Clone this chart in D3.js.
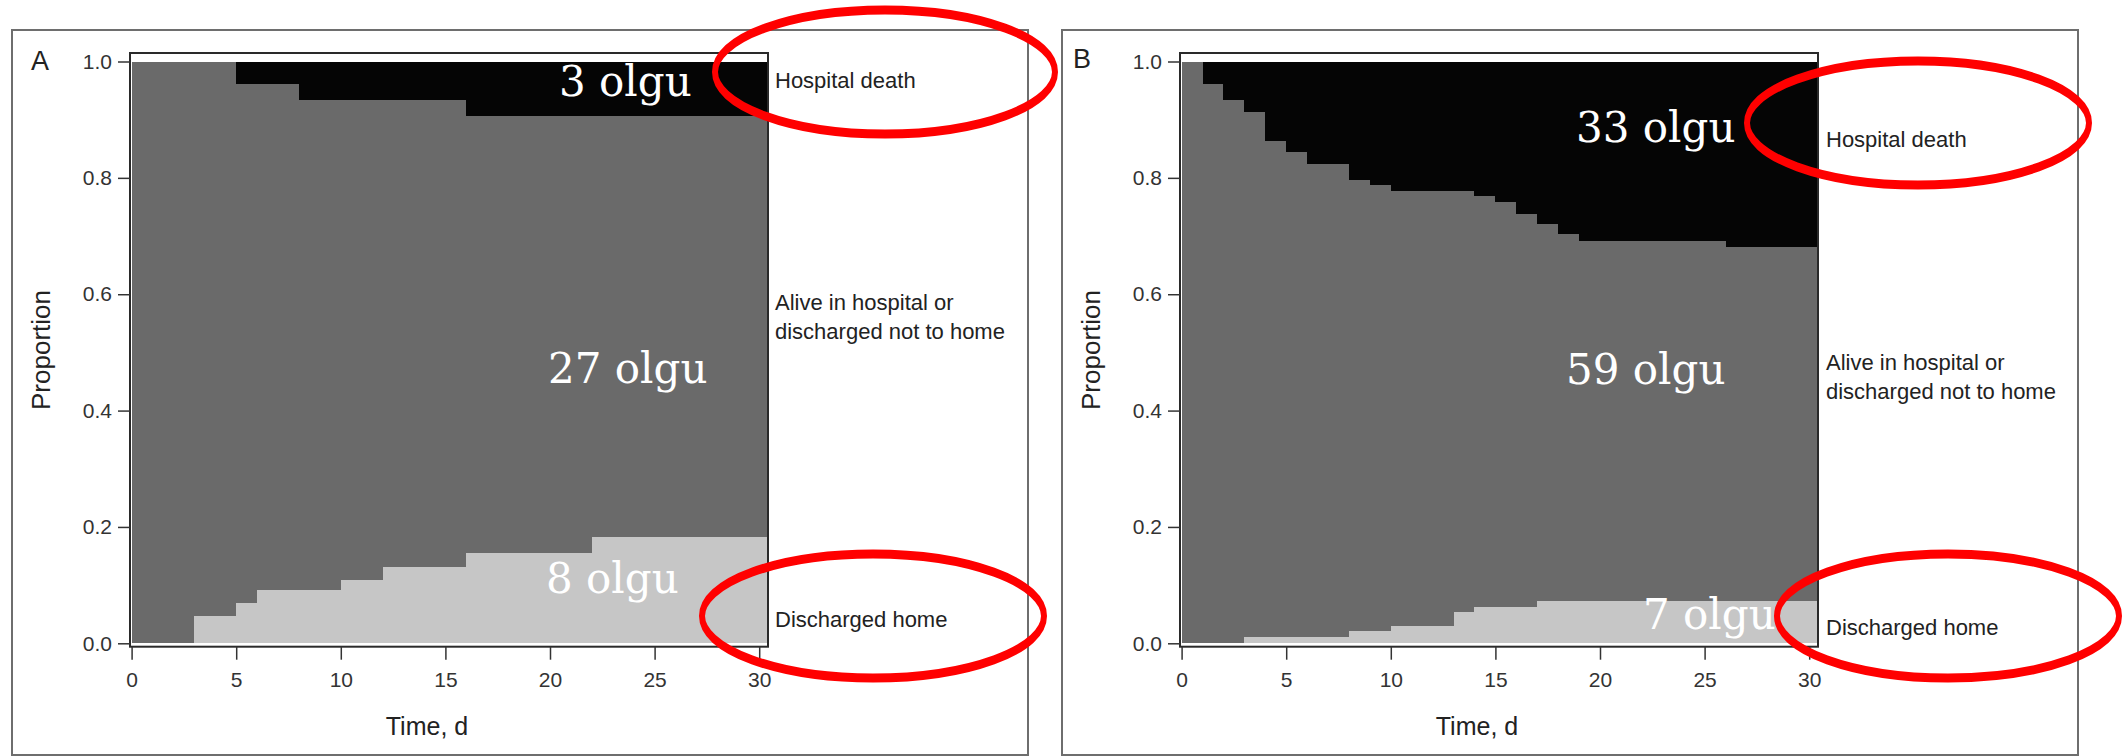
<!DOCTYPE html>
<html><head><meta charset="utf-8">
<script src="https://cdn.jsdelivr.net/npm/d3@7"></script>
<style>
html,body{margin:0;padding:0;background:#fff;}
svg{display:block;}
text{font-family:"Liberation Sans", Arial, sans-serif;}
</style></head><body>
<svg id="chart" width="2128" height="756"></svg>
<script>
// Stacked cumulative incidence of outcomes during the first 30 days
const xTicks = [0, 5, 10, 15, 20, 25, 30];
const yTicks = [0, 0.2, 0.4, 0.6, 0.8, 1.0];
const stateLabels = [["Hospital death"], ["Alive in hospital or", "discharged not to home"], ["Discharged home"]];

// Panel A
const homeTimesA = [0, 3, 5, 6, 10, 12, 16, 22];
const homeValuesA = [0, 0.047, 0.069, 0.091, 0.109, 0.132, 0.156, 0.182];
const deathTimesA = [0, 5, 8, 16];
const deathValuesA = [0, 0.039, 0.066, 0.094];
const countsA = ["3 olgu", "27 olgu", "8 olgu"];

// Panel B
const homeTimesB = [0, 3, 8, 10, 13, 14, 17];
const homeValuesB = [0, 0.010, 0.021, 0.030, 0.053, 0.062, 0.072];
const deathTimesB = [0, 1, 2, 3, 4, 5, 6, 8, 9, 10, 14, 15, 16, 17, 18, 19, 26];
const deathValuesB = [0, 0.038, 0.067, 0.087, 0.136, 0.156, 0.176, 0.203, 0.213, 0.222, 0.232, 0.242, 0.262, 0.279, 0.296, 0.308, 0.318];
const countsB = ["33 olgu", "59 olgu", "7 olgu"];

const followUpEnd = 30.4;

const panels = [
  { name: "A", homeT: homeTimesA, homeV: homeValuesA, deathT: deathTimesA, deathV: deathValuesA, counts: countsA },
  { name: "B", homeT: homeTimesB, homeV: homeValuesB, deathT: deathTimesB, deathV: deathValuesB, counts: countsB }
];

// page layout for each panel (pixels)
const layout = {
  A: { dx: 0, letter: [31, 70], legendX: 775, legendY: [[88], [310, 339], [627]],
       countPos: [[559, 96], [548, 383], [546, 593]],
       rings: [[885, 72, 170, 62], [873, 616, 171, 62]] },
  B: { dx: 1050, letter: [23, 68], legendX: 776, legendY: [[147], [370, 399], [635]],
       countPos: [[526, 142], [516, 384], [593, 629]],
       rings: [[868, 123, 171, 62], [898, 616, 171, 62]] }
};

const colors = { death: "#050505", alive: "#6a6a6a", home: "#c6c6c6" };

const svg = d3.select("#chart");

function stepValue(times, values, t) {
  let v = values[0];
  for (let i = 0; i < times.length; i++) if (times[i] <= t) v = values[i];
  return v;
}

panels.forEach(p => {
  const L = layout[p.name];
  const g = svg.append("g").attr("transform", `translate(${L.dx},0)`);

  const x = d3.scaleLinear().domain([0, 30]).range([131.6, 759.2]);
  const y = d3.scaleLinear().domain([0, 1]).range([643.3, 61.5]);

  // outer panel border
  g.append("rect").attr("x", 12).attr("y", 30).attr("width", 1016).attr("height", 725)
    .attr("fill", "none").attr("stroke", "#6e6e6e").attr("stroke-width", 2);

  // stacked state bands
  const times = Array.from(new Set([...p.homeT, ...p.deathT])).sort((a, b) => a - b);
  times.push(followUpEnd);
  const rows = times.map(t => ({
    t,
    home: stepValue(p.homeT, p.homeV, t),
    top: 1 - stepValue(p.deathT, p.deathV, t)
  }));

  const area = (lo, hi) => d3.area().curve(d3.curveStepAfter)
    .x(d => x(d.t)).y0(d => y(lo(d))).y1(d => y(hi(d)));

  g.append("path").datum(rows).attr("d", area(d => 0, d => d.home)).attr("fill", colors.home).attr("shape-rendering", "crispEdges");
  g.append("path").datum(rows).attr("d", area(d => d.home, d => d.top)).attr("fill", colors.alive).attr("shape-rendering", "crispEdges");
  g.append("path").datum(rows).attr("d", area(d => d.top, d => 1)).attr("fill", colors.death).attr("shape-rendering", "crispEdges");

  // plot frame
  g.append("rect").attr("x", 130).attr("y", 53).attr("width", 638).attr("height", 593.7)
    .attr("fill", "none").attr("stroke", "#2a2a2a").attr("stroke-width", 2);

  // axes
  const yAxis = g.append("g").attr("transform", "translate(130,0)")
    .call(d3.axisLeft(y).tickValues(yTicks).tickFormat(d3.format(".1f")).tickSize(12).tickPadding(6));
  const xAxis = g.append("g").attr("transform", "translate(0,646.7)")
    .call(d3.axisBottom(x).tickValues(xTicks).tickFormat(d3.format("d")).tickSize(13).tickPadding(12));
  [yAxis, xAxis].forEach(a => {
    a.select(".domain").remove();
    a.selectAll(".tick line").attr("stroke", "#333").attr("stroke-width", 1.5);
    a.selectAll(".tick text").attr("fill", "#333").style("font-size", "21px")
      .style("font-family", '"Liberation Sans", Arial, sans-serif');
  });

  g.append("text").attr("x", 427).attr("y", 735).attr("text-anchor", "middle")
    .attr("fill", "#222").style("font-size", "25px").text("Time, d");
  g.append("text").attr("transform", "translate(50,350) rotate(-90)").attr("text-anchor", "middle")
    .attr("fill", "#222").style("font-size", "26px").text("Proportion");

  g.append("text").attr("x", L.letter[0]).attr("y", L.letter[1])
    .attr("fill", "#222").style("font-size", "27px").text(p.name);

  // state labels on the right
  stateLabels.forEach((lines, i) => {
    lines.forEach((s, j) => {
      g.append("text").attr("x", L.legendX).attr("y", L.legendY[i][j])
        .attr("fill", "#222").style("font-size", "22px").text(s);
    });
  });

  // case counts
  p.counts.forEach((s, i) => {
    g.append("text").attr("x", L.countPos[i][0]).attr("y", L.countPos[i][1])
      .attr("fill", "#fff").style("font-family", '"DejaVu Serif", serif').style("font-size", "42px").text(s);
  });

  // highlight rings
  L.rings.forEach(r => {
    g.append("g").attr("transform", `translate(${r[0]},${r[1]}) scale(1,1.5)`)
      .append("ellipse").attr("rx", r[2]).attr("ry", r[3] / 1.5)
      .attr("fill", "none").attr("stroke", "#f00").attr("stroke-width", 6);
  });
});
</script>
</body></html>
